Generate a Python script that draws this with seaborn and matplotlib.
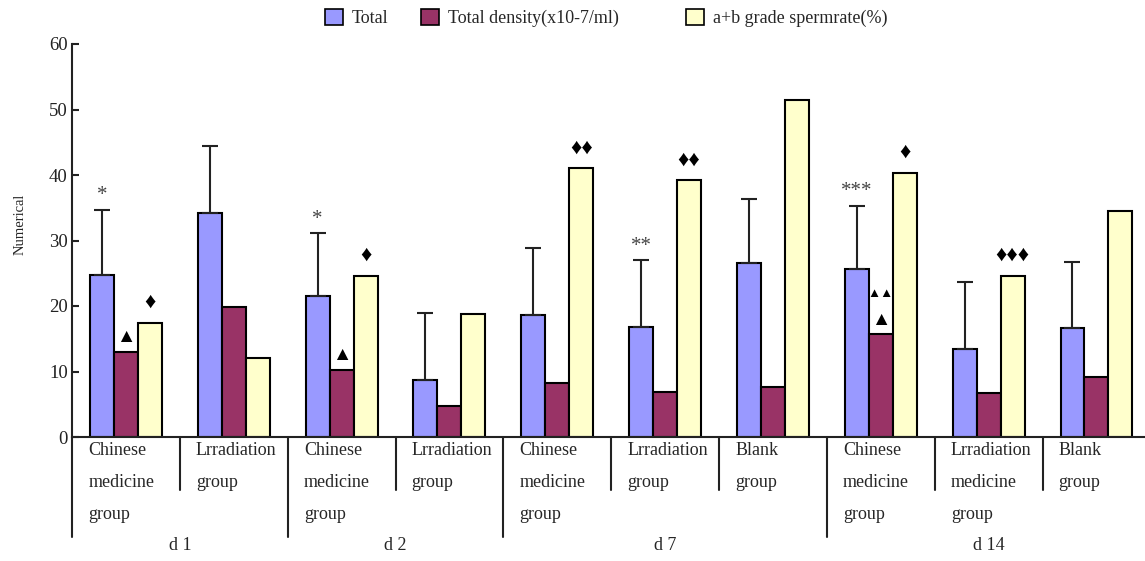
import numpy as np
import pandas as pd
import seaborn as sns
import matplotlib
matplotlib.use('Agg')
import matplotlib.pyplot as plt
import matplotlib.transforms as mtransforms
from matplotlib.patches import Patch

sns.set_style('white')
plt.rcParams['font.family'] = ['Liberation Serif', 'DejaVu Sans']
plt.rcParams['font.size'] = 13

# --- values ---
days = ['d 1', 'd 1', 'd 2', 'd 2', 'd 7', 'd 7', 'd 7', 'd 14', 'd 14', 'd 14']
group_labels = [
    'Chinese\nmedicine\ngroup', 'Lrradiation\ngroup',
    'Chinese\nmedicine\ngroup', 'Lrradiation\ngroup',
    'Chinese\nmedicine\ngroup', 'Lrradiation\ngroup', 'Blank\ngroup',
    'Chinese\nmedicine\ngroup', 'Lrradiation\nmedicine\ngroup', 'Blank\ngroup',
]
total = [24.7, 34.2, 21.5, 8.7, 18.6, 16.8, 26.5, 25.6, 13.4, 16.6]
total_err = [10.0, 10.3, 9.6, 10.3, 10.2, 10.2, 9.9, 9.7, 10.2, 10.1]
density = [13.0, 19.9, 10.3, 4.8, 8.2, 6.9, 7.7, 15.7, 6.7, 9.1]
spermrate = [17.4, 12.1, 24.6, 18.8, 41.0, 39.2, 51.5, 40.3, 24.6, 34.5]
series_names = ['Total', 'Total density(x10-7/ml)', 'a+b grade spermrate(%)']
colors = ['#9999FF', '#993366', '#FFFFCC']

# significance marks
total_marks = ['*', '', '*', '', '', '**', '', '***', '', '']
density_marks = ['▲', '', '▲', '', '', '', '', '▲', '', '']
density_marks_top = ['', '', '', '', '', '', '', '▲▲', '', '']
rate_marks = ['♦', '', '♦', '', '♦♦', '♦♦', '', '♦', '♦♦♦', '']

# --- long table for seaborn ---
n = len(days)
group_ids = [f'g{i}' for i in range(n)]
df = pd.DataFrame({
    'group': group_ids * 3,
    'series': np.repeat(series_names, n),
    'value': total + density + spermrate,
})

fig, ax = plt.subplots(figsize=(11.45, 5.61), dpi=100)
ax.set_position([72 / 1145, 1 - 437 / 561, 1073 / 1145, 393 / 561])

sns.barplot(data=df, x='group', y='value', hue='series', hue_order=series_names,
            order=group_ids, palette=colors, saturation=1, width=0.667,
            errorbar=None, edgecolor='black', linewidth=1.5, legend=False, ax=ax)

# error bars (upper only) on the Total bars
bars_total = ax.containers[0]
bars_dens = ax.containers[1]
bars_rate = ax.containers[2]
xs_total = [p.get_x() + p.get_width() / 2 for p in bars_total]
ax.errorbar(xs_total, total, yerr=[np.zeros(n), total_err], fmt='none',
            ecolor='#222222', elinewidth=1.5, capsize=6, capthick=1.5)

sym_font = ['Liberation Serif', 'DejaVu Sans']
for i in range(n):
    if total_marks[i]:
        ax.annotate(total_marks[i], (xs_total[i], total[i] + total_err[i]),
                    xytext=(0, 10), textcoords='offset points', ha='center',
                    va='center', fontsize=15, color='#444444', family=sym_font)
    p = bars_dens[i]
    xc = p.get_x() + p.get_width() / 2
    if density_marks[i]:
        ax.annotate(density_marks[i], (xc, density[i]), xytext=(0, 10),
                    textcoords='offset points', ha='center', va='center',
                    fontsize=14, color='black', family=sym_font)
    if density_marks_top[i]:
        ax.annotate(density_marks_top[i], (xc, density[i]), xytext=(0, 29),
                    textcoords='offset points', ha='center', va='center',
                    fontsize=9.5, color='black', family=sym_font)
    p = bars_rate[i]
    xc = p.get_x() + p.get_width() / 2
    if rate_marks[i]:
        ax.annotate(rate_marks[i], (xc, spermrate[i]), xytext=(0, 14),
                    textcoords='offset points', ha='center', va='center',
                    fontsize=16, color='black', family=sym_font)

ax.set_xlim(-0.5, 9.45)
ax.set_ylim(0, 60)
ax.set_yticks(range(0, 61, 10))
ax.tick_params(axis='y', direction='in', length=5, width=1.5, pad=3,
               labelsize=13.5, left=True, colors='#222222')
ax.tick_params(axis='x', bottom=False, labelbottom=False)
ax.set_xlabel('')
ax.set_ylabel('Numerical', fontsize=10.5)
ax.yaxis.set_label_coords(-0.042, 0.54)
sns.despine(ax=ax)
for s in ['left', 'bottom']:
    ax.spines[s].set_linewidth(1.5)
    ax.spines[s].set_color('#222222')

# category table under the axis
trans = mtransforms.blended_transform_factory(ax.transData, ax.transAxes)
for i in range(n):
    left = i - 0.5
    long_line = i == 0 or days[i] != days[i - 1]
    ax.plot([left, left], [0, -0.255 if long_line else -0.135], transform=trans,
            color='#222222', lw=1.5, clip_on=False)
    ax.text(left + 0.15, -0.012, group_labels[i], transform=trans, ha='left',
            va='top', linespacing=2.16, fontsize=13)

for d in dict.fromkeys(days):
    idx = [i for i in range(n) if days[i] == d]
    ax.text(np.mean(idx), -0.275, d, transform=trans, ha='center', va='center',
            fontsize=13)

# legend on top: first two entries close together, third set apart
handles = [Patch(facecolor=c, edgecolor='black', linewidth=1.2, label=s)
           for c, s in zip(colors, series_names)]
leg_kw = dict(loc='center left', frameon=False, handlelength=1.0, handleheight=1.0,
              handletextpad=0.5, fontsize=13, borderaxespad=0, borderpad=0)
fig.legend(handles=handles[:2], bbox_to_anchor=(325 / 1145, 0.968), ncol=2,
           columnspacing=1.8, **leg_kw)
fig.legend(handles=handles[2:], bbox_to_anchor=(686 / 1145, 0.968), **leg_kw)

fig.savefig('out.png', dpi=100)
